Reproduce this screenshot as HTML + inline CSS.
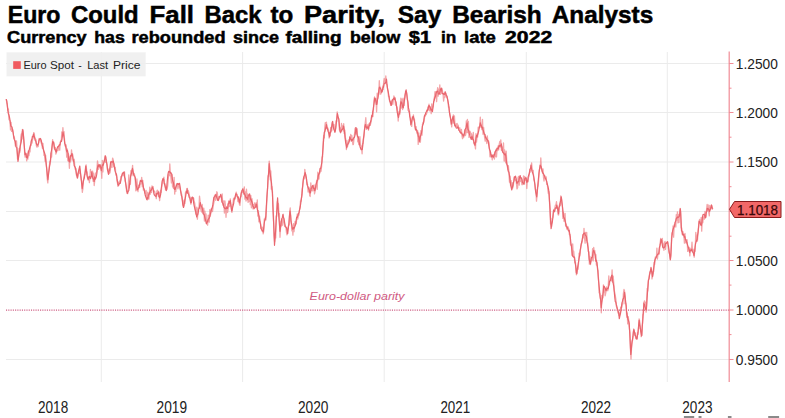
<!DOCTYPE html>
<html><head><meta charset="utf-8">
<style>
html,body{margin:0;padding:0;background:#fff;}
body{width:785px;height:418px;overflow:hidden;position:relative;font-family:"Liberation Sans",sans-serif;}
svg{position:absolute;left:0;top:0;display:block;}
</style></head><body>
<svg width="785" height="418" viewBox="0 0 785 418">
<line x1="6" y1="63.5" x2="729" y2="63.5" stroke="#ebebeb" stroke-width="1"/>
<line x1="6" y1="112.5" x2="729" y2="112.5" stroke="#ebebeb" stroke-width="1"/>
<line x1="6" y1="162.0" x2="729" y2="162.0" stroke="#ebebeb" stroke-width="1"/>
<line x1="6" y1="211.5" x2="729" y2="211.5" stroke="#ebebeb" stroke-width="1"/>
<line x1="6" y1="260.5" x2="729" y2="260.5" stroke="#ebebeb" stroke-width="1"/>
<line x1="6" y1="359.5" x2="729" y2="359.5" stroke="#ebebeb" stroke-width="1"/>
<line x1="101.3" y1="52" x2="101.3" y2="382" stroke="#ebebeb" stroke-width="1"/>
<line x1="242.6" y1="52" x2="242.6" y2="382" stroke="#ebebeb" stroke-width="1"/>
<line x1="384.2" y1="52" x2="384.2" y2="382" stroke="#ebebeb" stroke-width="1"/>
<line x1="526.3" y1="52" x2="526.3" y2="382" stroke="#ebebeb" stroke-width="1"/>
<line x1="667.3" y1="52" x2="667.3" y2="382" stroke="#ebebeb" stroke-width="1"/>
<line x1="6" y1="310.1" x2="729" y2="310.1" stroke="#cc5a80" stroke-width="1.2" stroke-dasharray="1.1,1.17"/>
<rect x="6.5" y="52.3" width="139.2" height="24" fill="#eeeeee" fill-opacity="0.9"/>
<rect x="13.2" y="61.2" width="7.6" height="7.7" fill="#f05a5f"/>
<g font-family="Liberation Sans" fill="#222">
<text x="23.4" y="69.2" font-size="11.5" textLength="23.1" lengthAdjust="spacingAndGlyphs" >Euro</text>
<text x="50" y="69.2" font-size="11.5" textLength="24.0" lengthAdjust="spacingAndGlyphs" >Spot</text>
<text x="78.3" y="69.2" font-size="11.5" textLength="3.5" lengthAdjust="spacingAndGlyphs" >-</text>
<text x="87.2" y="69.2" font-size="11.5" textLength="21.0" lengthAdjust="spacingAndGlyphs" >Last</text>
<text x="113" y="69.2" font-size="11.5" textLength="27.5" lengthAdjust="spacingAndGlyphs" >Price</text>
</g>
<text x="309.6" y="299.8" font-size="11.6" textLength="94.9" lengthAdjust="spacingAndGlyphs" font-family="Liberation Sans" font-style="italic" fill="#d05a82">Euro-dollar parity</text>
<path d="M6.2,99.1 L6.7,102.2 L7.3,104.2 L7.8,110.0 L8.4,109.1 L8.9,119.2 L9.4,120.1 L10.0,120.7 L10.5,129.9 L11.1,122.5 L11.6,131.4 L12.1,130.5 L12.7,129.6 L13.2,132.9 L13.8,138.2 L14.3,136.8 L14.8,140.7 L15.4,145.9 L15.9,143.4 L16.5,141.0 L17.0,149.0 L17.5,159.0 L18.1,159.6 L18.6,154.2 L19.2,148.3 L19.7,152.7 L20.2,150.5 L20.8,137.7 L21.3,134.0 L21.9,138.9 L22.4,129.5 L22.9,131.0 L23.5,136.3 L24.0,140.9 L24.6,151.8 L25.1,157.1 L25.6,156.0 L26.2,154.3 L26.7,160.9 L27.3,156.2 L27.8,159.1 L28.3,151.0 L28.9,155.7 L29.4,151.7 L30.0,151.8 L30.5,145.0 L31.0,145.6 L31.6,139.3 L32.1,143.0 L32.7,138.8 L33.2,138.2 L33.7,132.6 L34.3,133.2 L34.8,138.9 L35.4,139.0 L35.9,139.4 L36.4,145.8 L37.0,147.2 L37.5,144.7 L38.1,146.6 L38.6,142.7 L39.1,138.4 L39.7,139.8 L40.2,138.9 L40.8,141.6 L41.3,143.4 L41.8,142.9 L42.4,148.3 L42.9,143.4 L43.5,149.7 L44.0,155.4 L44.5,153.9 L45.1,161.3 L45.6,155.2 L46.2,163.2 L46.7,168.8 L47.2,178.4 L47.8,182.9 L48.3,173.3 L48.9,170.0 L49.4,165.3 L49.9,161.5 L50.5,161.6 L51.0,153.2 L51.6,157.0 L52.1,146.6 L52.6,139.7 L53.2,144.3 L53.7,143.6 L54.3,148.8 L54.8,149.7 L55.3,147.5 L55.9,154.1 L56.4,152.6 L57.0,150.2 L57.5,150.7 L58.0,150.6 L58.6,146.1 L59.1,145.0 L59.7,150.1 L60.2,142.8 L60.7,140.3 L61.3,141.4 L61.8,131.9 L62.4,136.5 L62.9,127.6 L63.4,134.5 L64.0,131.6 L64.5,139.6 L65.1,146.0 L65.6,144.4 L66.1,145.1 L66.7,157.1 L67.2,148.9 L67.8,160.8 L68.3,153.7 L68.8,155.7 L69.4,168.3 L69.9,157.0 L70.5,162.0 L71.0,159.4 L71.5,149.8 L72.1,156.0 L72.6,154.1 L73.2,161.3 L73.7,160.0 L74.2,159.3 L74.8,166.6 L75.3,169.5 L75.9,168.6 L76.4,175.1 L76.9,173.3 L77.5,178.2 L78.0,175.8 L78.6,172.4 L79.1,173.4 L79.6,168.6 L80.2,171.7 L80.7,176.3 L81.3,179.8 L81.8,181.3 L82.3,192.3 L82.9,188.6 L83.4,180.5 L84.0,177.0 L84.5,174.3 L85.0,174.6 L85.6,167.2 L86.1,164.9 L86.7,171.4 L87.2,171.7 L87.7,177.5 L88.3,177.0 L88.8,176.8 L89.4,182.7 L89.9,178.0 L90.4,169.5 L91.0,172.4 L91.5,171.7 L92.1,172.1 L92.6,171.1 L93.1,181.3 L93.7,173.2 L94.2,185.5 L94.8,180.1 L95.3,175.3 L95.8,172.8 L96.4,172.8 L96.9,170.1 L97.5,160.8 L98.0,164.4 L98.5,169.3 L99.1,166.7 L99.6,167.5 L100.2,166.4 L100.7,168.6 L101.2,168.7 L101.8,178.3 L102.3,160.3 L102.9,171.9 L103.4,162.6 L103.9,162.0 L104.5,159.6 L105.0,156.0 L105.6,162.3 L106.1,160.0 L106.6,163.2 L107.2,166.1 L107.7,170.4 L108.3,169.1 L108.8,173.6 L109.3,170.0 L109.9,173.0 L110.4,170.1 L111.0,161.3 L111.5,167.2 L112.0,167.3 L112.6,158.1 L113.1,159.3 L113.7,166.6 L114.2,164.0 L114.7,167.3 L115.3,167.4 L115.8,175.2 L116.4,174.1 L116.9,180.4 L117.4,182.7 L118.0,186.3 L118.5,182.5 L119.1,181.8 L119.6,182.2 L120.1,180.2 L120.7,180.1 L121.2,176.4 L121.8,176.9 L122.3,174.1 L122.8,173.4 L123.4,174.5 L123.9,175.8 L124.5,171.8 L125.0,180.9 L125.5,182.3 L126.1,186.0 L126.6,191.5 L127.2,190.9 L127.7,193.6 L128.2,188.8 L128.8,175.0 L129.3,187.8 L129.9,181.4 L130.4,184.3 L130.9,170.6 L131.5,175.0 L132.0,171.2 L132.6,165.4 L133.1,175.8 L133.6,173.5 L134.2,173.4 L134.7,175.4 L135.3,180.4 L135.8,190.8 L136.3,190.2 L136.9,179.0 L137.4,186.8 L138.0,191.6 L138.5,186.3 L139.0,184.8 L139.6,187.7 L140.1,183.8 L140.7,184.1 L141.2,182.5 L141.7,177.3 L142.3,186.6 L142.8,180.5 L143.4,190.1 L143.9,188.6 L144.4,189.7 L145.0,192.5 L145.5,193.8 L146.1,190.5 L146.6,199.0 L147.1,200.1 L147.7,192.2 L148.2,193.2 L148.8,199.3 L149.3,194.9 L149.8,187.1 L150.4,194.2 L150.9,189.0 L151.5,192.4 L152.0,185.9 L152.5,187.4 L153.1,186.6 L153.6,191.6 L154.2,191.0 L154.7,191.4 L155.2,194.1 L155.8,193.9 L156.3,198.7 L156.9,191.0 L157.4,190.2 L157.9,190.9 L158.5,196.3 L159.0,192.2 L159.6,200.6 L160.1,196.7 L160.6,190.3 L161.2,192.5 L161.7,187.3 L162.3,183.4 L162.8,178.7 L163.3,179.7 L163.9,177.2 L164.4,183.8 L165.0,183.6 L165.5,189.6 L166.0,190.2 L166.6,186.9 L167.1,189.3 L167.7,185.6 L168.2,179.1 L168.7,174.4 L169.3,175.7 L169.8,163.9 L170.4,174.5 L170.9,177.1 L171.4,182.9 L172.0,174.6 L172.5,186.3 L173.1,187.6 L173.6,188.3 L174.1,177.3 L174.7,194.1 L175.2,188.0 L175.8,191.4 L176.3,184.9 L176.8,183.7 L177.4,183.5 L177.9,188.8 L178.5,185.7 L179.0,183.7 L179.5,187.1 L180.1,188.8 L180.6,190.9 L181.2,192.7 L181.7,194.5 L182.2,198.0 L182.8,202.2 L183.3,204.9 L183.9,201.0 L184.4,199.6 L184.9,203.5 L185.5,192.3 L186.0,191.3 L186.6,191.9 L187.1,192.7 L187.6,193.2 L188.2,190.5 L188.7,192.1 L189.3,196.0 L189.8,196.5 L190.3,200.3 L190.9,204.2 L191.4,197.3 L192.0,198.9 L192.5,198.7 L193.0,198.1 L193.6,198.0 L194.1,201.5 L194.7,203.1 L195.2,207.6 L195.7,214.0 L196.3,213.4 L196.8,207.1 L197.4,219.2 L197.9,210.6 L198.4,207.8 L199.0,207.8 L199.5,196.2 L200.1,201.3 L200.6,208.0 L201.1,210.7 L201.7,212.1 L202.2,204.5 L202.8,211.4 L203.3,213.5 L203.8,208.2 L204.4,221.0 L204.9,211.1 L205.5,219.2 L206.0,213.8 L206.5,222.0 L207.1,220.1 L207.6,225.2 L208.2,215.1 L208.7,219.7 L209.2,222.1 L209.8,209.6 L210.3,216.2 L210.9,212.4 L211.4,208.4 L211.9,208.3 L212.5,211.5 L213.0,207.1 L213.6,204.0 L214.1,201.4 L214.6,195.1 L215.2,198.4 L215.7,200.3 L216.3,197.0 L216.8,191.7 L217.3,192.7 L217.9,198.7 L218.4,200.7 L219.0,196.7 L219.5,196.9 L220.0,197.2 L220.6,197.1 L221.1,195.8 L221.7,201.8 L222.2,194.0 L222.7,205.0 L223.3,204.2 L223.8,200.9 L224.4,213.0 L224.9,200.9 L225.4,205.2 L226.0,217.3 L226.5,209.5 L227.1,209.1 L227.6,212.5 L228.1,209.3 L228.7,200.9 L229.2,206.5 L229.8,205.7 L230.3,198.9 L230.8,205.6 L231.4,207.5 L231.9,212.4 L232.5,204.5 L233.0,203.6 L233.5,198.6 L234.1,197.9 L234.6,199.6 L235.2,198.4 L235.7,194.6 L236.2,192.2 L236.8,196.0 L237.3,196.3 L237.9,201.5 L238.4,196.6 L238.9,200.6 L239.5,204.7 L240.0,205.2 L240.6,197.1 L241.1,196.5 L241.6,190.9 L242.2,191.4 L242.7,192.6 L243.3,191.6 L243.8,194.4 L244.3,186.8 L244.9,199.1 L245.4,191.8 L246.0,201.0 L246.5,189.2 L247.0,199.8 L247.6,193.9 L248.1,202.4 L248.7,195.9 L249.2,201.4 L249.7,193.9 L250.3,204.6 L250.8,195.4 L251.4,207.8 L251.9,198.5 L252.4,201.8 L253.0,208.9 L253.5,204.6 L254.1,208.8 L254.6,203.0 L255.1,206.9 L255.7,206.2 L256.2,202.7 L256.8,207.3 L257.3,200.0 L257.8,216.1 L258.4,210.6 L258.9,221.8 L259.5,216.1 L260.0,220.4 L260.5,223.3 L261.1,227.1 L261.6,229.0 L262.2,227.1 L262.7,228.7 L263.2,233.9 L263.8,230.7 L264.3,219.0 L264.9,220.5 L265.4,217.0 L265.9,219.9 L266.5,206.8 L267.0,197.3 L267.6,188.4 L268.1,175.6 L268.6,176.6 L269.2,161.1 L269.7,166.6 L270.3,179.8 L270.8,171.0 L271.3,189.2 L271.9,186.4 L272.4,190.5 L273.0,208.0 L273.5,217.1 L274.0,235.3 L274.6,241.6 L275.1,233.2 L275.7,237.9 L276.2,216.0 L276.7,216.4 L277.3,201.6 L277.8,203.6 L278.4,203.6 L278.9,214.1 L279.4,213.5 L280.0,237.3 L280.5,227.9 L281.1,221.5 L281.6,225.9 L282.1,219.8 L282.7,225.1 L283.2,214.2 L283.8,222.5 L284.3,222.5 L284.8,226.5 L285.4,226.1 L285.9,227.3 L286.5,232.7 L287.0,234.8 L287.5,228.5 L288.1,227.7 L288.6,225.2 L289.2,225.0 L289.7,211.6 L290.2,208.0 L290.8,220.9 L291.3,222.1 L291.9,230.9 L292.4,227.8 L292.9,235.2 L293.5,223.6 L294.0,231.6 L294.6,226.0 L295.1,221.5 L295.6,222.6 L296.2,223.9 L296.7,219.3 L297.3,214.0 L297.8,219.0 L298.3,215.4 L298.9,215.1 L299.4,210.5 L300.0,208.0 L300.5,200.9 L301.0,201.2 L301.6,197.2 L302.1,189.1 L302.7,186.0 L303.2,181.3 L303.7,178.0 L304.3,178.9 L304.8,169.4 L305.4,174.2 L305.9,178.0 L306.4,178.6 L307.0,184.6 L307.5,184.0 L308.1,192.0 L308.6,187.1 L309.1,187.7 L309.7,195.7 L310.2,196.5 L310.8,182.9 L311.3,190.7 L311.8,186.9 L312.4,189.5 L312.9,191.0 L313.5,186.6 L314.0,184.8 L314.5,193.9 L315.1,191.4 L315.6,187.9 L316.2,184.9 L316.7,180.1 L317.2,189.3 L317.8,172.2 L318.3,173.9 L318.9,179.0 L319.4,172.8 L319.9,173.0 L320.5,168.8 L321.0,171.3 L321.6,166.5 L322.1,156.9 L322.6,156.9 L323.2,141.2 L323.7,135.5 L324.3,137.9 L324.8,127.6 L325.3,122.6 L325.9,128.5 L326.4,122.1 L327.0,128.8 L327.5,127.6 L328.0,128.5 L328.6,131.2 L329.1,138.0 L329.7,132.7 L330.2,135.5 L330.7,127.5 L331.3,131.1 L331.8,130.8 L332.4,123.5 L332.9,125.9 L333.4,125.5 L334.0,124.5 L334.5,130.4 L335.1,131.3 L335.6,128.4 L336.1,120.7 L336.7,121.7 L337.2,111.8 L337.8,116.9 L338.3,118.7 L338.8,118.7 L339.4,129.9 L339.9,127.7 L340.5,132.8 L341.0,131.0 L341.5,123.5 L342.1,126.6 L342.6,125.9 L343.2,130.8 L343.7,123.7 L344.2,133.4 L344.8,130.1 L345.3,136.6 L345.9,140.8 L346.4,149.5 L346.9,140.5 L347.5,146.5 L348.0,144.1 L348.6,141.4 L349.1,139.3 L349.6,140.0 L350.2,137.5 L350.7,134.5 L351.3,141.4 L351.8,135.5 L352.3,139.4 L352.9,144.7 L353.4,144.4 L354.0,138.5 L354.5,134.2 L355.0,128.8 L355.6,127.6 L356.1,134.0 L356.7,129.9 L357.2,128.8 L357.7,141.8 L358.3,137.9 L358.8,144.6 L359.4,142.3 L359.9,136.6 L360.4,144.6 L361.0,145.8 L361.5,147.1 L362.1,153.8 L362.6,143.3 L363.1,143.5 L363.7,137.9 L364.2,133.8 L364.8,126.4 L365.3,122.4 L365.8,117.7 L366.4,129.3 L366.9,125.1 L367.5,128.7 L368.0,124.6 L368.5,130.1 L369.1,123.7 L369.6,123.1 L370.2,125.3 L370.7,123.3 L371.2,121.4 L371.8,117.6 L372.3,114.7 L372.9,116.6 L373.4,110.3 L373.9,100.9 L374.5,97.0 L375.0,100.9 L375.6,100.9 L376.1,99.0 L376.6,111.9 L377.2,93.1 L377.7,98.7 L378.3,95.6 L378.8,94.0 L379.3,80.7 L379.9,89.3 L380.4,94.2 L381.0,94.0 L381.5,90.1 L382.0,91.8 L382.6,86.2 L383.1,89.6 L383.7,81.5 L384.2,78.5 L384.7,79.4 L385.3,82.8 L385.8,76.0 L386.4,84.5 L386.9,84.7 L387.4,88.2 L388.0,90.9 L388.5,96.5 L389.1,96.4 L389.6,101.5 L390.1,101.5 L390.7,105.4 L391.2,101.2 L391.8,103.2 L392.3,99.6 L392.8,104.5 L393.4,99.8 L393.9,96.0 L394.5,97.5 L395.0,99.8 L395.5,105.2 L396.1,101.8 L396.6,105.9 L397.2,107.4 L397.7,113.0 L398.2,121.0 L398.8,112.0 L399.3,112.2 L399.9,114.2 L400.4,105.8 L400.9,98.1 L401.5,108.0 L402.0,99.2 L402.6,109.5 L403.1,98.2 L403.6,105.3 L404.2,105.4 L404.7,95.9 L405.3,93.8 L405.8,92.5 L406.3,91.5 L406.9,94.3 L407.4,98.1 L408.0,110.2 L408.5,110.8 L409.0,111.9 L409.6,111.7 L410.1,118.7 L410.7,122.3 L411.2,125.5 L411.7,126.4 L412.3,116.8 L412.8,119.4 L413.4,114.8 L413.9,120.0 L414.4,119.0 L415.0,125.9 L415.5,129.6 L416.1,126.7 L416.6,130.7 L417.1,133.6 L417.7,130.8 L418.2,144.4 L418.8,132.9 L419.3,142.2 L419.8,135.8 L420.4,142.2 L420.9,130.6 L421.5,130.8 L422.0,135.2 L422.5,124.1 L423.1,122.2 L423.6,122.6 L424.2,120.6 L424.7,115.6 L425.2,116.3 L425.8,113.4 L426.3,114.7 L426.9,112.3 L427.4,111.4 L427.9,106.9 L428.5,109.5 L429.0,104.2 L429.6,110.8 L430.1,107.6 L430.6,107.0 L431.2,113.7 L431.7,104.0 L432.3,109.9 L432.8,107.5 L433.3,106.7 L433.9,99.2 L434.4,97.3 L435.0,91.7 L435.5,97.8 L436.0,91.7 L436.6,101.6 L437.1,92.6 L437.7,87.7 L438.2,96.2 L438.7,89.1 L439.3,93.8 L439.8,84.8 L440.4,94.3 L440.9,90.7 L441.4,87.9 L442.0,88.7 L442.5,91.4 L443.1,94.1 L443.6,101.0 L444.1,97.1 L444.7,97.3 L445.2,91.7 L445.8,93.2 L446.3,97.0 L446.8,96.2 L447.4,98.3 L447.9,101.0 L448.5,107.2 L449.0,107.0 L449.5,112.8 L450.1,114.2 L450.6,118.9 L451.2,122.2 L451.7,126.9 L452.2,119.7 L452.8,123.0 L453.3,114.8 L453.9,123.2 L454.4,115.9 L454.9,124.3 L455.5,125.3 L456.0,123.9 L456.6,126.4 L457.1,123.4 L457.6,127.1 L458.2,125.1 L458.7,129.2 L459.3,128.4 L459.8,127.8 L460.3,131.3 L460.9,132.9 L461.4,129.3 L462.0,135.8 L462.5,138.6 L463.0,134.1 L463.6,137.6 L464.1,135.5 L464.7,129.8 L465.2,135.7 L465.7,134.9 L466.3,121.0 L466.8,132.5 L467.4,119.3 L467.9,132.7 L468.4,121.3 L469.0,137.4 L469.5,132.6 L470.1,131.4 L470.6,134.1 L471.1,133.2 L471.7,134.7 L472.2,139.1 L472.8,137.4 L473.3,132.4 L473.8,143.1 L474.4,144.5 L474.9,145.0 L475.5,148.9 L476.0,133.7 L476.5,142.1 L477.1,136.0 L477.6,137.2 L478.2,127.2 L478.7,127.2 L479.2,127.8 L479.8,125.4 L480.3,117.1 L480.9,127.3 L481.4,124.8 L481.9,129.7 L482.5,119.3 L483.0,134.3 L483.6,127.4 L484.1,132.9 L484.6,137.4 L485.2,141.1 L485.7,136.8 L486.3,138.4 L486.8,143.5 L487.3,135.9 L487.9,141.6 L488.4,140.6 L489.0,142.6 L489.5,149.3 L490.0,156.8 L490.6,152.4 L491.1,156.8 L491.7,154.7 L492.2,159.8 L492.7,155.9 L493.3,154.3 L493.8,157.2 L494.4,159.1 L494.9,151.9 L495.4,156.5 L496.0,149.3 L496.5,156.9 L497.1,147.9 L497.6,150.7 L498.1,145.8 L498.7,149.8 L499.2,144.4 L499.8,141.3 L500.3,147.2 L500.8,139.8 L501.4,150.3 L501.9,146.8 L502.5,147.9 L503.0,152.3 L503.5,142.9 L504.1,161.1 L504.6,149.8 L505.2,158.4 L505.7,162.9 L506.2,151.2 L506.8,162.8 L507.3,166.1 L507.9,169.8 L508.4,165.7 L508.9,172.9 L509.5,182.1 L510.0,176.1 L510.6,185.6 L511.1,180.7 L511.6,187.7 L512.2,182.7 L512.7,188.0 L513.3,185.9 L513.8,179.7 L514.3,176.9 L514.9,178.8 L515.4,180.4 L516.0,179.2 L516.5,184.1 L517.0,188.9 L517.6,187.7 L518.1,177.3 L518.7,176.4 L519.2,185.2 L519.7,177.9 L520.3,181.6 L520.8,179.9 L521.4,179.1 L521.9,184.6 L522.4,184.6 L523.0,184.3 L523.5,176.0 L524.1,184.3 L524.6,176.3 L525.1,178.0 L525.7,180.4 L526.2,178.4 L526.8,188.5 L527.3,180.7 L527.8,182.1 L528.4,177.5 L528.9,176.7 L529.5,171.9 L530.0,172.4 L530.5,169.6 L531.1,167.5 L531.6,163.0 L532.2,170.3 L532.7,172.4 L533.2,170.5 L533.8,180.0 L534.3,180.0 L534.9,185.3 L535.4,189.4 L535.9,189.6 L536.5,201.2 L537.0,195.6 L537.6,186.6 L538.1,186.0 L538.6,180.5 L539.2,170.7 L539.7,168.4 L540.3,167.9 L540.8,157.9 L541.3,166.7 L541.9,171.1 L542.4,172.5 L543.0,168.9 L543.5,177.5 L544.0,181.0 L544.6,175.2 L545.1,177.9 L545.7,179.2 L546.2,177.0 L546.7,184.4 L547.3,184.0 L547.8,189.5 L548.4,193.6 L548.9,191.5 L549.4,200.4 L550.0,209.8 L550.5,223.9 L551.1,221.7 L551.6,226.8 L552.1,218.2 L552.7,217.8 L553.2,214.8 L553.8,209.5 L554.3,211.6 L554.8,208.1 L555.4,205.2 L555.9,205.1 L556.5,201.7 L557.0,208.1 L557.5,207.0 L558.1,214.8 L558.6,215.0 L559.2,206.1 L559.7,203.8 L560.2,205.6 L560.8,195.9 L561.3,199.7 L561.9,204.1 L562.4,205.7 L562.9,218.4 L563.5,212.5 L564.0,221.3 L564.6,218.1 L565.1,213.3 L565.6,225.6 L566.2,224.0 L566.7,229.0 L567.3,226.6 L567.8,226.4 L568.3,228.1 L568.9,229.2 L569.4,234.6 L570.0,234.3 L570.5,244.5 L571.0,245.4 L571.6,245.2 L572.1,255.2 L572.7,243.9 L573.2,256.4 L573.7,251.2 L574.3,257.4 L574.8,262.8 L575.4,262.1 L575.9,266.6 L576.4,274.8 L577.0,269.6 L577.5,267.9 L578.1,269.2 L578.6,262.7 L579.1,253.1 L579.7,256.1 L580.2,252.3 L580.8,246.6 L581.3,244.1 L581.8,243.1 L582.4,240.2 L582.9,234.7 L583.5,237.8 L584.0,228.4 L584.5,237.2 L585.1,243.1 L585.6,232.5 L586.2,240.4 L586.7,232.3 L587.2,242.4 L587.8,242.9 L588.3,251.5 L588.9,251.9 L589.4,264.1 L589.9,256.4 L590.5,264.5 L591.0,261.2 L591.6,260.7 L592.1,258.8 L592.6,248.6 L593.2,260.9 L593.7,247.3 L594.3,252.1 L594.8,250.7 L595.3,258.1 L595.9,254.7 L596.4,265.0 L597.0,262.5 L597.5,269.3 L598.0,270.5 L598.6,280.8 L599.1,292.6 L599.7,293.6 L600.2,297.5 L600.7,299.9 L601.3,312.8 L601.8,295.3 L602.4,295.3 L602.9,297.9 L603.4,284.9 L604.0,292.0 L604.5,288.0 L605.1,295.8 L605.6,293.7 L606.1,291.0 L606.7,286.9 L607.2,290.7 L607.8,290.7 L608.3,285.2 L608.8,275.8 L609.4,284.9 L609.9,280.1 L610.5,280.4 L611.0,277.2 L611.5,280.8 L612.1,269.9 L612.6,282.2 L613.2,276.1 L613.7,282.8 L614.2,290.0 L614.8,293.1 L615.3,295.7 L615.9,299.5 L616.4,306.5 L616.9,308.1 L617.5,309.6 L618.0,313.0 L618.6,312.6 L619.1,315.3 L619.6,313.0 L620.2,313.6 L620.7,307.1 L621.3,307.7 L621.8,307.3 L622.3,303.6 L622.9,304.0 L623.4,293.5 L624.0,289.4 L624.5,290.9 L625.0,303.6 L625.6,302.1 L626.1,305.8 L626.7,317.3 L627.2,312.8 L627.7,323.9 L628.3,316.7 L628.8,321.6 L629.4,328.9 L629.9,332.6 L630.4,348.3 L631.0,359.0 L631.5,348.3 L632.1,341.0 L632.6,340.3 L633.1,335.6 L633.7,329.0 L634.2,332.6 L634.8,335.6 L635.3,333.0 L635.8,338.6 L636.4,337.1 L636.9,339.2 L637.5,332.6 L638.0,334.4 L638.5,329.1 L639.1,318.9 L639.6,320.8 L640.2,328.6 L640.7,329.2 L641.2,336.7 L641.8,335.1 L642.3,326.1 L642.9,314.3 L643.4,313.9 L643.9,302.6 L644.5,300.8 L645.0,302.4 L645.6,302.5 L646.1,312.1 L646.6,303.6 L647.2,288.5 L647.7,291.0 L648.3,281.1 L648.8,278.6 L649.3,275.7 L649.9,271.9 L650.4,273.0 L651.0,270.1 L651.5,268.8 L652.0,278.9 L652.6,274.5 L653.1,271.4 L653.7,271.4 L654.2,262.1 L654.7,264.3 L655.3,257.0 L655.8,257.5 L656.4,257.7 L656.9,248.1 L657.4,259.0 L658.0,254.3 L658.5,253.1 L659.1,254.1 L659.6,248.6 L660.1,243.5 L660.7,238.5 L661.2,242.9 L661.8,242.3 L662.3,238.3 L662.8,245.4 L663.4,244.1 L663.9,250.3 L664.5,242.6 L665.0,241.4 L665.5,249.4 L666.1,242.8 L666.6,243.3 L667.2,242.5 L667.7,242.0 L668.2,246.2 L668.8,251.7 L669.3,253.2 L669.9,255.0 L670.4,259.2 L670.9,256.0 L671.5,238.6 L672.0,232.8 L672.6,234.3 L673.1,225.8 L673.6,237.1 L674.2,224.7 L674.7,225.8 L675.3,222.5 L675.8,227.0 L676.3,214.6 L676.9,220.0 L677.4,212.0 L678.0,222.9 L678.5,214.7 L679.0,222.4 L679.6,211.8 L680.1,208.3 L680.7,212.6 L681.2,227.9 L681.7,227.9 L682.3,234.8 L682.8,231.3 L683.4,234.1 L683.9,235.2 L684.4,243.2 L685.0,233.5 L685.5,242.4 L686.1,243.0 L686.6,239.6 L687.1,239.9 L687.7,251.4 L688.2,251.0 L688.8,247.2 L689.3,247.7 L689.8,255.9 L690.4,250.1 L690.9,248.2 L691.5,249.0 L692.0,242.1 L692.5,250.9 L693.1,249.1 L693.6,251.3 L694.2,257.1 L694.7,250.1 L695.2,251.3 L695.8,232.3 L696.3,241.4 L696.9,235.2 L697.4,241.2 L697.9,233.8 L698.5,226.8 L699.0,222.3 L699.6,219.5 L700.1,222.2 L700.6,223.0 L701.2,217.4 L701.7,231.2 L702.3,219.2 L702.8,222.7 L703.3,217.1 L703.9,217.0 L704.4,219.2 L705.0,211.4 L705.5,215.2 L706.0,217.3 L706.6,209.4 L707.1,204.5 L707.7,210.1 L708.2,205.0 L708.7,211.7 L709.3,215.8 L709.8,205.4 L710.4,208.9 L710.9,209.0 L711.4,204.9 L712.0,207.3 L712.7,209.3" fill="none" stroke="#ef8084" stroke-opacity="0.7" stroke-width="1.3" stroke-linejoin="round"/>
<path d="M6.2,99.1 L6.8,101.2 L7.3,105.6 L7.9,110.9 L8.4,114.0 L9.0,115.1 L9.6,117.9 L10.2,121.5 L10.8,126.0 L11.4,126.5 L12.0,126.9 L12.6,130.1 L13.2,133.0 L13.7,136.5 L14.2,139.2 L14.7,140.4 L15.3,141.4 L15.8,146.3 L16.3,147.3 L16.8,147.5 L17.4,153.6 L18.0,161.4 L18.5,157.9 L19.1,153.7 L19.6,150.0 L20.1,146.7 L20.7,143.9 L21.2,141.8 L21.7,138.4 L22.3,132.2 L22.8,129.5 L23.4,134.9 L23.9,142.0 L24.4,147.3 L25.0,154.7 L25.5,153.3 L26.0,153.3 L26.5,157.5 L27.0,157.1 L27.5,158.0 L28.0,154.0 L28.6,151.5 L29.1,150.3 L29.7,148.0 L30.2,146.4 L30.8,144.5 L31.3,140.9 L31.9,139.6 L32.4,136.3 L33.0,136.8 L33.5,134.0 L34.1,136.3 L34.7,137.7 L35.2,140.5 L35.8,141.0 L36.4,143.8 L37.0,145.0 L37.5,145.1 L38.1,144.3 L38.6,142.8 L39.1,140.0 L39.6,139.4 L40.2,138.4 L40.7,139.0 L41.2,140.2 L41.7,142.7 L42.2,145.1 L42.8,147.2 L43.3,149.2 L43.8,151.1 L44.3,152.0 L44.8,153.9 L45.3,156.6 L45.8,160.7 L46.4,166.1 L46.9,170.7 L47.4,175.4 L47.9,179.8 L48.4,175.7 L49.0,170.8 L49.5,166.7 L50.0,164.1 L50.6,158.5 L51.1,152.4 L51.6,150.0 L52.2,145.3 L52.7,141.5 L53.2,143.2 L53.7,142.1 L54.2,146.0 L54.8,149.0 L55.3,149.8 L55.8,151.3 L56.3,152.0 L56.8,149.2 L57.4,147.6 L57.9,146.6 L58.4,146.6 L58.9,146.1 L59.5,144.6 L60.0,145.0 L60.5,142.2 L61.0,141.6 L61.5,141.4 L62.0,139.2 L62.5,135.0 L63.0,132.0 L63.6,135.1 L64.2,138.5 L64.7,143.4 L65.3,144.8 L65.9,147.5 L66.4,150.2 L66.9,151.8 L67.4,150.2 L68.0,153.2 L68.5,158.2 L69.0,161.4 L69.5,161.9 L70.1,158.2 L70.7,155.4 L71.3,155.8 L71.9,153.5 L72.5,155.5 L73.1,159.5 L73.7,161.3 L74.2,165.7 L74.8,166.6 L75.4,167.8 L75.9,170.3 L76.4,173.7 L76.9,176.1 L77.4,178.0 L78.0,173.7 L78.6,171.0 L79.2,168.5 L79.8,166.0 L80.4,172.1 L81.0,176.9 L81.6,183.3 L82.2,188.7 L82.7,185.2 L83.2,182.3 L83.7,179.9 L84.3,178.0 L84.8,174.3 L85.3,171.0 L85.8,166.0 L86.4,170.9 L87.0,175.6 L87.6,178.0 L88.2,180.0 L88.7,177.5 L89.2,176.9 L89.7,176.4 L90.3,178.6 L90.8,178.1 L91.3,176.2 L91.8,172.0 L92.4,176.3 L93.0,178.9 L93.6,178.9 L94.2,181.5 L94.7,176.8 L95.2,179.2 L95.7,178.4 L96.3,176.7 L96.8,174.0 L97.3,168.6 L97.8,166.0 L98.4,164.9 L99.0,166.8 L99.5,164.8 L100.1,164.6 L100.7,167.3 L101.3,170.7 L101.8,168.0 L102.3,164.8 L102.8,165.0 L103.3,165.1 L103.9,162.7 L104.4,160.6 L104.9,158.6 L105.4,155.9 L105.9,157.3 L106.4,161.4 L107.0,164.7 L107.5,169.9 L108.0,172.1 L108.5,174.3 L109.0,171.4 L109.6,169.7 L110.1,166.3 L110.6,162.3 L111.2,161.7 L111.7,162.2 L112.2,161.8 L112.8,162.2 L113.3,161.0 L113.8,163.5 L114.4,167.2 L114.9,170.2 L115.4,172.2 L116.0,173.4 L116.5,174.8 L117.0,178.4 L117.6,182.1 L118.1,185.0 L118.6,185.4 L119.2,184.0 L119.7,183.2 L120.3,183.3 L120.8,180.6 L121.4,176.2 L121.9,175.7 L122.5,173.1 L123.0,173.3 L123.6,172.2 L124.1,172.0 L124.6,177.2 L125.1,178.5 L125.7,183.6 L126.2,186.9 L126.7,190.0 L127.2,193.5 L127.7,192.3 L128.3,191.3 L128.8,190.5 L129.3,185.9 L129.8,182.9 L130.4,177.3 L130.9,174.9 L131.4,173.5 L132.0,170.2 L132.5,168.3 L133.0,170.8 L133.6,174.3 L134.1,175.3 L134.6,176.3 L135.2,177.3 L135.7,181.9 L136.2,185.6 L136.8,187.5 L137.3,190.0 L137.8,189.1 L138.3,188.2 L138.9,186.9 L139.4,185.3 L139.9,182.4 L140.4,180.4 L141.0,181.7 L141.5,181.3 L142.0,180.3 L142.5,182.5 L143.1,185.1 L143.6,188.2 L144.2,189.8 L144.7,192.6 L145.3,195.5 L145.8,196.9 L146.4,198.4 L146.9,199.5 L147.4,197.7 L147.9,198.6 L148.4,195.0 L149.0,194.3 L149.5,193.1 L150.0,191.9 L150.6,190.4 L151.2,190.4 L151.8,188.9 L152.4,187.1 L152.9,188.4 L153.4,190.3 L153.9,193.7 L154.5,195.3 L155.0,195.8 L155.5,196.1 L156.0,196.7 L156.6,193.6 L157.2,194.0 L157.8,193.4 L158.4,191.9 L159.0,196.4 L159.6,197.9 L160.1,196.3 L160.6,194.7 L161.1,189.8 L161.7,185.0 L162.2,181.0 L162.7,179.6 L163.2,178.7 L163.7,179.4 L164.2,183.3 L164.8,185.2 L165.3,187.1 L165.8,188.7 L166.3,190.7 L166.9,184.7 L167.4,179.8 L167.9,174.6 L168.5,171.8 L169.1,171.3 L169.6,171.6 L170.1,172.9 L170.7,172.3 L171.2,173.5 L171.7,174.0 L172.3,178.5 L172.8,181.1 L173.4,182.5 L173.9,186.2 L174.5,189.4 L175.1,189.5 L175.7,187.5 L176.3,185.9 L176.9,184.6 L177.5,183.5 L178.0,183.6 L178.5,184.4 L179.0,184.1 L179.5,183.3 L180.0,186.0 L180.6,190.4 L181.2,195.0 L181.8,196.6 L182.3,200.3 L182.9,205.4 L183.5,207.5 L184.0,205.9 L184.5,202.2 L185.0,199.6 L185.6,196.3 L186.1,193.5 L186.6,192.0 L187.1,188.3 L187.6,192.5 L188.1,193.5 L188.6,194.2 L189.2,197.3 L189.7,197.8 L190.2,199.4 L190.7,202.7 L191.3,202.6 L191.9,198.2 L192.5,197.1 L193.1,197.9 L193.6,202.6 L194.1,205.3 L194.6,207.5 L195.2,210.1 L195.7,211.6 L196.2,214.2 L196.7,217.0 L197.2,215.0 L197.7,214.8 L198.2,212.7 L198.8,208.8 L199.3,208.5 L199.8,205.1 L200.3,202.7 L200.9,204.9 L201.5,206.8 L202.1,207.8 L202.7,209.9 L203.2,214.0 L203.8,214.1 L204.3,214.9 L204.8,217.5 L205.4,219.6 L205.9,221.6 L206.4,223.9 L207.0,222.1 L207.5,221.9 L208.0,220.0 L208.6,218.7 L209.1,218.4 L209.6,217.0 L210.2,214.7 L210.7,212.7 L211.2,210.3 L211.8,208.6 L212.3,207.5 L212.8,204.7 L213.3,201.2 L213.8,197.7 L214.4,196.9 L214.9,196.4 L215.4,195.4 L215.9,194.3 L216.5,196.8 L217.1,198.2 L217.7,200.4 L218.3,200.3 L218.9,198.8 L219.5,196.5 L220.1,196.3 L220.7,194.3 L221.2,196.1 L221.7,198.6 L222.2,202.5 L222.8,203.3 L223.3,204.0 L223.8,207.1 L224.3,207.5 L224.9,208.7 L225.4,208.5 L225.9,208.9 L226.5,206.9 L227.1,208.5 L227.6,208.4 L228.1,203.9 L228.7,203.6 L229.2,201.4 L229.8,203.1 L230.3,200.5 L230.9,205.4 L231.6,211.0 L232.1,210.4 L232.6,207.6 L233.2,205.4 L233.7,203.3 L234.2,199.2 L234.7,198.4 L235.2,196.6 L235.8,193.9 L236.3,194.1 L236.8,194.0 L237.3,196.6 L237.9,197.8 L238.4,197.5 L239.0,200.7 L239.5,203.0 L240.1,198.9 L240.6,197.1 L241.2,193.2 L241.8,191.5 L242.3,189.9 L242.9,188.7 L243.4,191.0 L243.9,193.2 L244.4,193.6 L245.0,195.0 L245.5,196.3 L246.0,197.9 L246.6,197.6 L247.1,197.8 L247.7,199.4 L248.3,195.1 L248.9,195.0 L249.4,194.1 L250.0,196.6 L250.6,199.8 L251.1,199.4 L251.7,201.8 L252.3,203.0 L252.9,206.2 L253.4,206.7 L254.0,208.4 L254.5,208.0 L255.0,207.7 L255.6,206.8 L256.1,204.0 L256.6,204.5 L257.2,208.6 L257.7,211.2 L258.3,212.5 L258.8,215.5 L259.4,219.0 L259.9,221.5 L260.5,224.2 L261.0,228.6 L261.6,229.4 L262.1,231.0 L262.7,230.7 L263.2,232.1 L263.7,228.1 L264.2,223.8 L264.8,219.9 L265.3,219.5 L265.8,216.3 L266.5,203.5 L267.1,194.0 L267.6,187.2 L268.1,178.0 L268.7,171.8 L269.2,163.7 L269.8,171.3 L270.4,175.0 L271.0,179.5 L271.5,182.8 L271.9,188.5 L272.4,192.6 L272.9,205.7 L273.4,218.4 L274.0,230.8 L274.5,245.3 L275.1,237.8 L275.7,229.1 L276.3,219.0 L277.0,207.5 L277.6,197.9 L278.2,209.4 L278.8,217.0 L279.4,224.1 L280.0,231.3 L280.6,226.7 L281.2,222.2 L281.7,218.8 L282.3,217.7 L282.9,214.6 L283.5,217.6 L284.1,219.0 L284.7,223.0 L285.3,226.6 L285.9,227.1 L286.5,227.9 L287.1,230.0 L287.7,233.7 L288.3,228.6 L288.9,222.9 L289.4,216.5 L290.0,211.0 L290.6,215.3 L291.2,222.6 L291.8,225.2 L292.4,229.0 L293.0,229.3 L293.6,227.5 L294.2,228.1 L294.8,226.6 L295.3,225.3 L295.8,223.3 L296.2,219.9 L296.7,217.0 L297.3,217.4 L297.9,215.5 L298.5,213.6 L299.1,212.2 L299.7,209.0 L300.3,206.5 L300.9,202.1 L301.5,197.8 L302.0,194.7 L302.4,189.8 L302.9,183.5 L303.4,178.7 L304.0,176.2 L304.5,175.4 L305.1,172.7 L305.7,174.5 L306.3,177.3 L306.9,182.7 L307.5,185.9 L308.1,187.4 L308.7,188.7 L309.3,190.4 L309.9,193.0 L310.5,192.8 L311.1,188.3 L311.7,188.1 L312.3,185.9 L312.9,185.3 L313.5,188.5 L314.1,188.1 L314.7,190.7 L315.3,189.2 L315.9,185.0 L316.5,182.9 L317.1,181.1 L317.7,179.9 L318.3,175.6 L318.9,174.0 L319.5,172.7 L320.1,168.4 L320.7,168.3 L321.3,165.3 L321.9,162.0 L322.5,154.8 L323.1,146.9 L323.7,139.0 L324.3,132.3 L324.9,131.4 L325.4,129.3 L325.9,127.8 L326.5,124.5 L327.0,127.6 L327.5,128.9 L328.1,131.5 L328.6,132.6 L329.1,134.2 L329.6,136.9 L330.1,132.2 L330.6,132.6 L331.1,129.5 L331.7,126.3 L332.2,122.2 L332.7,121.4 L333.2,126.1 L333.8,129.3 L334.3,130.2 L334.9,132.3 L335.4,130.3 L335.9,126.7 L336.4,122.1 L336.9,117.6 L337.4,113.6 L337.9,116.1 L338.4,117.6 L338.9,120.0 L339.5,126.4 L340.0,131.3 L340.5,132.3 L341.0,131.6 L341.5,130.5 L342.1,129.1 L342.6,129.3 L343.1,127.7 L343.6,126.0 L344.1,129.2 L344.6,132.7 L345.1,138.2 L345.7,142.9 L346.2,144.7 L346.7,147.8 L347.2,145.1 L347.7,144.6 L348.2,143.3 L348.8,142.9 L349.3,141.2 L349.8,136.9 L350.3,138.2 L350.8,139.2 L351.4,140.6 L351.9,139.5 L352.4,140.3 L352.9,140.0 L353.4,138.2 L353.9,137.8 L354.4,137.4 L355.0,135.2 L355.5,131.9 L356.0,127.6 L356.5,129.6 L357.0,134.1 L357.6,136.8 L358.1,136.5 L358.6,138.2 L359.1,141.6 L359.6,144.8 L360.2,147.3 L360.7,148.7 L361.2,149.8 L361.8,149.2 L362.3,149.4 L362.8,144.7 L363.3,139.4 L363.9,135.3 L364.4,130.5 L364.9,126.7 L365.4,124.5 L365.9,126.3 L366.4,127.7 L366.9,128.2 L367.5,126.9 L368.0,127.5 L368.5,129.1 L369.0,125.8 L369.6,125.6 L370.1,123.2 L370.6,121.8 L371.1,119.4 L371.7,115.7 L372.2,116.7 L372.7,111.7 L373.2,109.6 L373.7,105.5 L374.2,102.5 L374.7,98.0 L375.2,98.4 L375.8,100.7 L376.3,104.5 L376.9,104.3 L377.5,99.8 L378.1,96.5 L378.7,91.1 L379.3,87.5 L379.9,87.1 L380.5,88.6 L381.1,89.9 L381.7,92.3 L382.3,91.2 L382.9,87.9 L383.5,87.2 L384.1,84.0 L384.7,83.0 L385.3,83.2 L385.9,82.0 L386.5,79.2 L387.1,85.1 L387.7,89.6 L388.3,92.1 L388.9,95.9 L389.5,100.0 L390.1,101.6 L390.7,103.9 L391.3,105.5 L391.9,101.9 L392.5,100.0 L393.1,99.2 L393.7,98.3 L394.3,99.4 L394.9,97.7 L395.5,100.8 L396.1,103.1 L396.7,107.7 L397.3,112.7 L397.9,115.2 L398.5,117.5 L399.1,114.0 L399.7,112.4 L400.3,106.1 L400.9,101.9 L401.5,102.0 L402.1,104.0 L402.7,107.2 L403.3,107.9 L403.9,103.2 L404.4,100.2 L405.0,96.8 L405.5,91.7 L406.1,89.9 L406.7,93.7 L407.3,99.2 L407.9,101.8 L408.5,107.9 L409.1,110.4 L409.7,116.3 L410.3,118.3 L410.9,124.7 L411.5,122.7 L412.1,119.1 L412.7,117.3 L413.3,116.3 L413.9,118.8 L414.5,122.0 L415.0,126.3 L415.6,129.9 L416.2,129.5 L416.7,130.1 L417.2,132.0 L417.8,133.6 L418.3,136.3 L418.8,136.6 L419.3,141.4 L419.8,139.4 L420.3,136.7 L420.8,135.1 L421.4,133.3 L421.9,130.4 L422.4,126.4 L422.9,124.7 L423.4,123.6 L423.9,119.3 L424.4,116.1 L425.0,115.1 L425.5,113.6 L426.0,112.3 L426.5,111.5 L427.1,109.9 L427.7,110.4 L428.3,107.8 L428.9,105.5 L429.4,105.9 L429.9,106.9 L430.4,108.0 L431.0,110.0 L431.5,109.3 L432.0,110.9 L432.5,111.5 L433.1,105.8 L433.7,101.5 L434.3,100.2 L434.9,97.1 L435.5,96.4 L436.1,93.1 L436.6,92.0 L437.2,91.0 L437.8,91.1 L438.3,93.7 L438.8,94.1 L439.4,93.9 L439.9,91.9 L440.4,89.6 L440.9,88.7 L441.5,88.7 L442.1,93.6 L442.7,93.7 L443.3,93.5 L443.9,94.6 L444.5,94.3 L445.1,92.1 L445.7,93.5 L446.3,95.5 L446.9,96.0 L447.5,98.8 L448.1,101.9 L448.7,105.2 L449.2,110.0 L449.8,114.9 L450.4,117.5 L450.9,121.1 L451.3,124.2 L451.8,120.8 L452.2,119.3 L452.7,117.6 L453.2,116.3 L453.7,120.7 L454.2,122.5 L454.8,125.8 L455.3,125.5 L455.8,126.9 L456.3,127.9 L456.9,128.1 L457.4,127.9 L457.9,126.8 L458.4,127.8 L458.9,130.4 L459.5,130.7 L460.0,132.2 L460.5,132.1 L461.0,133.3 L461.6,132.8 L462.1,134.2 L462.7,134.8 L463.2,136.1 L463.9,135.1 L464.5,133.4 L465.0,130.1 L465.5,128.6 L466.1,128.0 L466.6,124.7 L467.1,122.9 L467.6,126.6 L468.1,129.8 L468.7,130.3 L469.2,133.4 L469.7,134.7 L470.2,136.7 L470.8,138.2 L471.3,139.4 L471.9,136.2 L472.4,137.4 L472.9,139.9 L473.4,139.6 L474.0,142.5 L474.5,144.1 L475.0,145.3 L475.5,141.9 L476.0,138.0 L476.6,135.0 L477.1,136.9 L477.6,134.7 L478.1,133.3 L478.7,130.8 L479.2,128.2 L479.8,125.8 L480.3,122.9 L480.8,125.1 L481.3,125.7 L481.9,127.9 L482.4,127.2 L482.9,129.5 L483.4,130.8 L483.9,133.1 L484.5,134.3 L485.0,134.4 L485.5,137.4 L486.0,138.0 L486.6,139.1 L487.1,139.1 L487.7,140.6 L488.2,141.3 L488.7,144.6 L489.2,148.0 L489.8,150.0 L490.3,151.0 L490.8,154.5 L491.3,155.9 L491.8,157.0 L492.4,155.5 L492.9,156.4 L493.4,157.1 L493.9,155.7 L494.5,154.6 L495.0,152.4 L495.6,151.0 L496.1,150.5 L496.6,150.0 L497.1,148.3 L497.7,148.4 L498.2,148.9 L498.7,146.6 L499.2,145.5 L499.7,146.2 L500.3,145.8 L500.8,145.8 L501.3,143.9 L501.8,146.9 L502.3,151.0 L502.9,152.4 L503.4,153.1 L503.9,153.2 L504.4,154.6 L504.9,154.9 L505.3,153.9 L505.8,155.8 L506.3,160.3 L506.9,164.6 L507.4,165.6 L507.9,168.9 L508.4,171.8 L508.9,172.1 L509.5,175.5 L510.0,179.5 L510.6,184.6 L511.2,187.3 L511.8,190.0 L512.3,187.5 L512.9,185.0 L513.4,182.9 L514.0,180.8 L514.5,176.8 L515.0,177.5 L515.5,176.1 L516.1,178.4 L516.6,182.8 L517.1,183.4 L517.6,181.8 L518.1,181.9 L518.7,181.5 L519.2,178.7 L519.7,176.8 L520.2,175.5 L520.8,178.5 L521.3,177.8 L521.9,179.2 L522.4,182.1 L522.9,183.0 L523.4,183.3 L524.0,183.9 L524.5,180.4 L525.0,178.2 L525.5,177.8 L526.1,177.9 L526.6,182.2 L527.2,180.4 L527.7,181.8 L528.2,176.6 L528.8,175.0 L529.4,173.3 L529.9,169.1 L530.5,168.5 L531.0,165.1 L531.6,169.2 L532.2,171.9 L532.8,173.4 L533.4,175.1 L534.0,178.0 L534.5,182.0 L535.0,185.2 L535.6,191.6 L536.2,194.5 L536.7,196.9 L537.3,191.3 L537.8,185.6 L538.4,179.0 L539.0,173.0 L539.5,169.6 L540.1,165.1 L540.6,165.8 L541.2,167.1 L541.8,169.5 L542.3,171.3 L542.9,173.3 L543.4,173.4 L544.0,175.0 L544.5,175.9 L545.1,177.8 L545.7,178.6 L546.2,180.1 L546.8,181.8 L547.4,184.3 L548.0,186.7 L548.5,188.9 L549.1,193.5 L549.6,202.6 L550.1,210.8 L550.6,220.6 L551.1,228.7 L551.7,224.7 L552.3,222.2 L552.9,217.4 L553.5,210.3 L554.0,210.5 L554.6,211.7 L555.1,209.1 L555.7,207.6 L556.2,208.2 L556.8,205.2 L557.4,207.8 L557.9,210.0 L558.5,213.6 L559.0,207.8 L559.6,206.1 L560.1,202.9 L560.7,200.4 L561.2,196.9 L561.8,200.2 L562.4,206.3 L562.9,210.7 L563.5,217.0 L564.0,217.7 L564.6,219.1 L565.1,220.7 L565.7,223.6 L566.2,226.5 L566.8,227.0 L567.4,227.4 L568.0,229.8 L568.6,230.9 L569.2,230.3 L569.7,233.9 L570.3,237.2 L570.8,242.3 L571.4,246.1 L571.9,250.4 L572.4,255.8 L572.9,256.2 L573.5,257.1 L574.0,257.0 L574.5,257.1 L575.1,262.2 L575.7,266.5 L576.3,272.7 L576.9,273.8 L577.5,267.9 L578.0,265.2 L578.5,262.0 L579.1,258.5 L579.7,255.0 L580.2,250.4 L580.8,247.0 L581.3,243.7 L581.9,241.5 L582.5,237.9 L583.0,235.0 L583.6,233.7 L584.1,233.2 L584.7,233.1 L585.2,235.0 L585.8,235.6 L586.4,236.4 L586.9,240.4 L587.5,244.5 L588.0,247.3 L588.6,252.4 L589.2,259.3 L589.7,261.3 L590.3,263.8 L590.8,261.2 L591.4,257.5 L592.0,257.8 L592.5,255.8 L593.0,252.5 L593.6,250.4 L594.2,251.6 L594.7,253.1 L595.3,255.5 L595.8,261.2 L596.4,260.3 L596.9,263.2 L597.5,267.4 L598.0,273.5 L598.6,281.3 L599.2,287.0 L599.7,292.3 L600.2,297.0 L600.7,300.6 L601.2,307.8 L601.7,303.1 L602.2,300.0 L602.7,296.2 L603.2,292.1 L603.7,286.0 L604.2,286.4 L604.8,287.5 L605.4,288.6 L605.9,290.7 L606.4,290.0 L606.9,288.6 L607.5,288.5 L608.0,288.9 L608.5,287.1 L609.0,284.5 L609.5,281.2 L610.0,280.9 L610.5,280.5 L611.1,277.4 L611.6,275.7 L612.1,275.1 L612.6,280.6 L613.2,283.4 L613.8,286.7 L614.3,292.3 L614.8,297.6 L615.3,301.8 L615.8,302.1 L616.3,304.7 L616.8,306.3 L617.3,308.5 L617.8,309.9 L618.3,311.6 L618.8,313.9 L619.3,318.7 L619.8,316.4 L620.4,313.8 L621.0,310.6 L621.5,306.3 L622.0,302.7 L622.5,301.2 L623.0,299.0 L623.6,298.5 L624.1,295.6 L624.6,292.3 L625.1,296.0 L625.7,302.4 L626.2,305.9 L626.8,314.0 L627.4,316.3 L628.0,319.6 L628.6,320.9 L629.2,323.4 L629.7,332.3 L630.3,344.0 L630.8,354.5 L631.3,349.7 L631.8,343.8 L632.3,340.5 L632.9,336.7 L633.4,331.9 L633.9,329.6 L634.4,331.7 L634.9,334.2 L635.5,335.7 L636.0,337.2 L636.5,338.9 L637.0,339.0 L637.5,335.4 L638.1,331.5 L638.7,324.6 L639.2,320.3 L639.7,324.3 L640.2,327.1 L640.7,331.3 L641.2,333.4 L641.7,335.8 L642.2,327.6 L642.8,319.9 L643.4,310.9 L643.9,303.2 L644.4,304.5 L644.9,306.2 L645.4,308.7 L645.9,309.8 L646.4,309.4 L646.9,301.2 L647.5,292.2 L648.0,285.9 L648.5,279.8 L649.0,279.0 L649.5,275.3 L650.0,272.4 L650.5,270.5 L651.0,267.4 L651.5,270.3 L652.1,273.4 L652.6,276.7 L653.1,273.6 L653.6,269.0 L654.2,264.4 L654.7,260.8 L655.2,259.2 L655.7,258.0 L656.2,257.4 L656.7,256.0 L657.2,255.0 L657.8,254.2 L658.3,254.0 L658.8,253.3 L659.3,247.9 L659.9,245.9 L660.5,243.2 L661.0,239.3 L661.7,240.5 L662.2,244.1 L662.7,247.2 L663.2,248.0 L663.8,247.4 L664.3,247.5 L664.9,246.7 L665.4,243.8 L665.9,243.3 L666.5,243.1 L667.0,242.2 L667.5,241.6 L668.0,244.2 L668.5,246.4 L669.0,250.2 L669.6,254.7 L670.3,259.9 L670.8,255.0 L671.3,246.6 L671.8,237.3 L672.3,232.5 L672.8,230.1 L673.3,228.7 L673.9,227.1 L674.5,226.1 L675.1,222.3 L675.6,221.3 L676.2,218.7 L676.7,217.9 L677.2,218.0 L677.8,216.9 L678.3,217.4 L678.9,216.9 L679.4,215.8 L679.9,212.7 L680.4,208.9 L681.0,220.2 L681.5,230.9 L682.1,231.3 L682.6,234.4 L683.2,235.2 L683.8,234.3 L684.3,237.2 L684.9,236.6 L685.4,239.5 L685.9,240.1 L686.5,241.8 L687.0,242.8 L687.5,244.8 L688.0,246.4 L688.6,248.3 L689.2,249.8 L689.7,252.4 L690.2,250.3 L690.8,250.2 L691.3,250.7 L691.8,249.1 L692.3,251.4 L692.9,252.3 L693.5,253.6 L694.0,255.6 L694.5,251.8 L695.0,247.2 L695.5,243.8 L696.0,242.1 L696.5,240.6 L697.1,239.6 L697.6,235.2 L698.1,232.3 L698.6,227.2 L699.1,221.2 L699.6,221.6 L700.2,223.0 L700.8,225.1 L701.3,225.5 L701.9,222.7 L702.4,217.5 L703.0,214.7 L703.5,214.6 L704.1,214.1 L704.7,215.4 L705.2,218.0 L705.7,216.5 L706.2,212.5 L706.8,211.7 L707.3,208.3 L707.8,208.9 L708.4,208.8 L709.0,210.1 L709.5,211.5 L710.0,210.3 L710.5,208.6 L711.1,207.0 L711.6,205.1 L712.2,208.2 L712.7,209.3" fill="none" stroke="#e9666e" stroke-width="1.2" stroke-linejoin="round"/>
<line x1="729.2" y1="51.5" x2="729.2" y2="382" stroke="#f08c96" stroke-width="1.2"/>
<line x1="729" y1="63.5" x2="733.5" y2="63.5" stroke="#f08c96" stroke-width="1"/>
<line x1="729" y1="88.2" x2="731.5" y2="88.2" stroke="#f08c96" stroke-width="1"/>
<line x1="729" y1="112.5" x2="733.5" y2="112.5" stroke="#f08c96" stroke-width="1"/>
<line x1="729" y1="137.2" x2="731.5" y2="137.2" stroke="#f08c96" stroke-width="1"/>
<line x1="729" y1="162.0" x2="733.5" y2="162.0" stroke="#f08c96" stroke-width="1"/>
<line x1="729" y1="186.7" x2="731.5" y2="186.7" stroke="#f08c96" stroke-width="1"/>
<line x1="729" y1="211.5" x2="733.5" y2="211.5" stroke="#f08c96" stroke-width="1"/>
<line x1="729" y1="236.2" x2="731.5" y2="236.2" stroke="#f08c96" stroke-width="1"/>
<line x1="729" y1="260.5" x2="733.5" y2="260.5" stroke="#f08c96" stroke-width="1"/>
<line x1="729" y1="285.1" x2="731.5" y2="285.1" stroke="#f08c96" stroke-width="1"/>
<line x1="729" y1="310.0" x2="733.5" y2="310.0" stroke="#f08c96" stroke-width="1"/>
<line x1="729" y1="334.6" x2="731.5" y2="334.6" stroke="#f08c96" stroke-width="1"/>
<line x1="729" y1="359.5" x2="733.5" y2="359.5" stroke="#f08c96" stroke-width="1"/>
<g font-family="Liberation Sans" fill="#222">
<text x="735.8" y="68.9" font-size="14.2" textLength="42.0" lengthAdjust="spacingAndGlyphs" >1.2500</text>
<text x="735.8" y="117.9" font-size="14.2" textLength="42.0" lengthAdjust="spacingAndGlyphs" >1.2000</text>
<text x="735.8" y="167.4" font-size="14.2" textLength="42.0" lengthAdjust="spacingAndGlyphs" >1.1500</text>
<text x="735.8" y="265.9" font-size="14.2" textLength="42.0" lengthAdjust="spacingAndGlyphs" >1.0500</text>
<text x="735.8" y="315.4" font-size="14.2" textLength="42.0" lengthAdjust="spacingAndGlyphs" >1.0000</text>
<text x="735.8" y="364.9" font-size="14.2" textLength="42.0" lengthAdjust="spacingAndGlyphs" >0.9500</text>
</g>
<path d="M729.5,209.3 L734.5,201.5 L781,201.5 L781,217.5 L734.5,217.5 Z" fill="#f26868" stroke="#8a1c1c" stroke-width="1"/>
<text x="737" y="214.6" font-size="14" textLength="41.0" lengthAdjust="spacingAndGlyphs" font-family="Liberation Sans" fill="#3a0808" stroke="#3a0808" stroke-width="0.25">1.1018</text>
<g font-family="Liberation Sans" fill="#222">
<text x="38.0" y="412.7" font-size="16.3" textLength="30.2" lengthAdjust="spacingAndGlyphs" >2018</text>
<text x="156.6" y="412.7" font-size="16.3" textLength="30.5" lengthAdjust="spacingAndGlyphs" >2019</text>
<text x="298" y="412.7" font-size="16.3" textLength="30.5" lengthAdjust="spacingAndGlyphs" >2020</text>
<text x="440.4" y="412.7" font-size="16.3" textLength="29.8" lengthAdjust="spacingAndGlyphs" >2021</text>
<text x="581" y="412.7" font-size="16.3" textLength="30.1" lengthAdjust="spacingAndGlyphs" >2022</text>
<text x="682.3" y="412.7" font-size="16.3" textLength="30.2" lengthAdjust="spacingAndGlyphs" >2023</text>
</g>
<rect x="683.9" y="416" width="10.3" height="2" fill="#8a8a8a"/>
<rect x="698.6" y="416" width="2.9" height="2" fill="#8a8a8a"/>
<rect x="727.9" y="416" width="3.6" height="2" fill="#8a8a8a"/>
<rect x="768.2" y="416" width="10.9" height="2" fill="#8a8a8a"/>
<g font-family="Liberation Sans" font-weight="bold" fill="#000" stroke="#000" stroke-width="0.5">
<text x="7.8" y="22.8" font-size="23.8" textLength="52.7" lengthAdjust="spacingAndGlyphs" >Euro</text>
<text x="71" y="22.8" font-size="23.8" textLength="67.6" lengthAdjust="spacingAndGlyphs" >Could</text>
<text x="149.5" y="22.8" font-size="23.8" textLength="44.5" lengthAdjust="spacingAndGlyphs" >Fall</text>
<text x="204.5" y="22.8" font-size="23.8" textLength="57.0" lengthAdjust="spacingAndGlyphs" >Back</text>
<text x="270.5" y="22.8" font-size="23.8" textLength="22.8" lengthAdjust="spacingAndGlyphs" >to</text>
<text x="304" y="22.8" font-size="23.8" textLength="81.0" lengthAdjust="spacingAndGlyphs" >Parity,</text>
<text x="397.8" y="22.8" font-size="23.8" textLength="43.4" lengthAdjust="spacingAndGlyphs" >Say</text>
<text x="452.2" y="22.8" font-size="23.8" textLength="89.6" lengthAdjust="spacingAndGlyphs" >Bearish</text>
<text x="551.8" y="22.8" font-size="23.8" textLength="101.4" lengthAdjust="spacingAndGlyphs" >Analysts</text>
<text x="7.1" y="42.7" font-size="16.9" textLength="79.5" lengthAdjust="spacingAndGlyphs" >Currency</text>
<text x="94.3" y="42.7" font-size="16.9" textLength="30.5" lengthAdjust="spacingAndGlyphs" >has</text>
<text x="131.5" y="42.7" font-size="16.9" textLength="94.0" lengthAdjust="spacingAndGlyphs" >rebounded</text>
<text x="233" y="42.7" font-size="16.9" textLength="46.0" lengthAdjust="spacingAndGlyphs" >since</text>
<text x="285.5" y="42.7" font-size="16.9" textLength="56.1" lengthAdjust="spacingAndGlyphs" >falling</text>
<text x="349.9" y="42.7" font-size="16.9" textLength="50.5" lengthAdjust="spacingAndGlyphs" >below</text>
<text x="408.8" y="42.7" font-size="16.9" textLength="22.2" lengthAdjust="spacingAndGlyphs" >$1</text>
<text x="440.9" y="42.7" font-size="16.9" textLength="15.3" lengthAdjust="spacingAndGlyphs" >in</text>
<text x="464" y="42.7" font-size="16.9" textLength="31.9" lengthAdjust="spacingAndGlyphs" >late</text>
<text x="505.1" y="42.7" font-size="16.9" textLength="47.1" lengthAdjust="spacingAndGlyphs" >2022</text>
</g>
</svg>
</body></html>
